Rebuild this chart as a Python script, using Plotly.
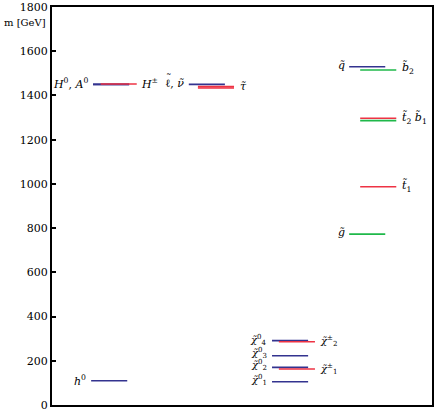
"""
SUSY mass spectrum (level diagram)
"""

import plotly.graph_objects as go

# masses in GeV
higgs_neutral = [110, 1450, 1450]        # h0, H0, A0
higgs_charged = [1452]                   # H+-
slepton_light = [1450]                   # l~, nu~
stau = [1440, 1434]
neutralino = [105, 170, 223, 291]
chargino = [163, 286]
squark_light = [1530]                    # q~
sbottom = [1515, 1286]
stop = [1297, 987]
gluino = [773]

y_ticks = [0, 200, 400, 600, 800, 1000, 1200, 1400, 1600, 1800]

BLUE = '#33338f'
RED = '#ee3344'
GREEN = '#1fb84a'
FONT = 'DejaVu Serif'

# column start positions (x axis units 0..10) and segment width
W = 0.95
SHIFT = 0.2


def segs(masses, x0):
    xs, ys = [], []
    for m in masses:
        xs += [x0, x0 + W, None]
        ys += [m, m, None]
    return xs, ys


fig = go.Figure()


def add(masses, x0, color, width=1.6):
    xs, ys = segs(masses, x0)
    fig.add_trace(go.Scatter(x=xs, y=ys, mode='lines', line=dict(color=color, width=width),
                             hoverinfo='skip', showlegend=False))


add(higgs_neutral[:1], 1.03, BLUE)
add(higgs_neutral[1:], 1.08, BLUE)
add(higgs_charged, 1.08 + SHIFT, RED)
add(slepton_light, 3.6, BLUE)
add(stau, 3.6 + 0.24, RED)
add(neutralino, 5.79, BLUE)
add(chargino, 5.79 + 0.18, RED)
add(squark_light, 7.82, BLUE)
add(gluino, 7.82, GREEN)
add(stop, 7.82 + 0.29, RED)
add(sbottom, 7.82 + 0.29, GREEN)

labels = [
    # text, x, y, anchor, size
    ('<i>H</i><sup>0</sup>, <i>A</i><sup>0</sup>', 1.0, 1455, 'right', 11),
    ('<i>H</i><sup>±</sup>', 2.3, 1455, 'left', 11),
    ('<i>h</i><sup>0</sup>', 0.95, 110, 'right', 11),
    ('ℓ, <i>ν̃</i>', 3.52, 1455, 'right', 11),
    ('<i>τ̃</i>', 4.9, 1440, 'left', 11),
    ('<i>χ̃</i><sup>0</sup><sub>4</sub>', 5.72, 296, 'right', 10),
    ('<i>χ̃</i><sup>0</sup><sub>3</sub>', 5.72, 236, 'right', 10),
    ('<i>χ̃</i><sup>0</sup><sub>2</sub>', 5.72, 182, 'right', 10),
    ('<i>χ̃</i><sup>0</sup><sub>1</sub>', 5.72, 113, 'right', 10),
    ('<i>χ̃</i><sup>±</sup><sub>2</sub>', 7.0, 290, 'left', 10),
    ('<i>χ̃</i><sup>±</sup><sub>1</sub>', 7.0, 163, 'left', 10),
    ('<i>q̃</i>', 7.75, 1535, 'right', 11),
    ('<i>b̃</i><sub>2</sub>', 9.15, 1525, 'left', 11),
    ('<i>t̃</i><sub>2</sub> <i>b̃</i><sub>1</sub>', 9.15, 1300, 'left', 11),
    ('<i>t̃</i><sub>1</sub>', 9.15, 990, 'left', 11),
    ('<i>g̃</i>', 7.75, 780, 'right', 11),
]
for text, x, y, anchor, size in labels:
    fig.add_annotation(x=x, y=y, text=text, showarrow=False, xanchor=anchor, yanchor='middle',
                       font=dict(family=FONT, size=size, color='black'))

# tilde over the ell (combining mark does not sit well on it)
fig.add_annotation(x=3.52, y=1455, text='˜', showarrow=False, xanchor='right', yanchor='middle',
                   xshift=-12, yshift=5, font=dict(family=FONT, size=11, color='black'))

fig.add_annotation(x=-0.01, y=0.962, xref='paper', yref='paper', text='m [GeV]', showarrow=False,
                   xanchor='right', yanchor='middle', font=dict(family=FONT, size=10, color='black'))

fig.update_xaxes(range=[0, 10], showgrid=False, zeroline=False, showticklabels=False,
                 showline=True, linecolor='black', linewidth=2, mirror=True, ticks='')
fig.update_yaxes(range=[0, 1800], tickvals=y_ticks, ticktext=[str(v) for v in y_ticks],
                 showgrid=False, zeroline=False, showline=True, linecolor='black', linewidth=2,
                 mirror=True, ticks='inside', ticklen=4, tickwidth=2, tickcolor='black',
                 ticklabeloverflow='allow', automargin=False,
                 tickfont=dict(family=FONT, size=11, color='black'))
fig.update_layout(width=436, height=409, margin=dict(l=52, r=4, t=7, b=4, autoexpand=False),
                  plot_bgcolor='white', paper_bgcolor='white')

fig.write_html("out.html", config={'displayModeBar': False},
               post_script="document.body.style.margin='0';")
